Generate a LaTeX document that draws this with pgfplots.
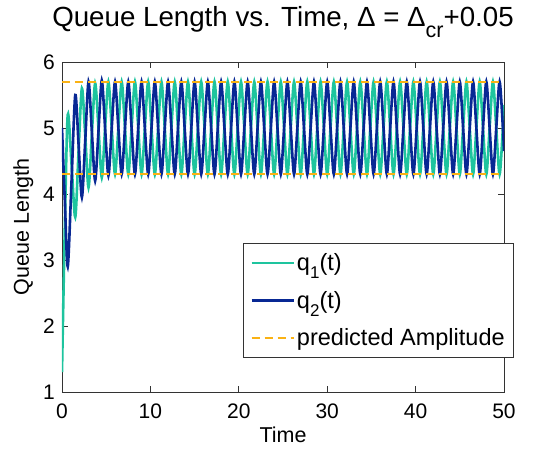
\documentclass[border=0pt]{standalone}
\usepackage{fontspec}
\setmainfont{Liberation Sans}
\usepackage{pgfplots}
\usepackage{pgfplotstable}
\pgfplotsset{compat=1.18}
\definecolor{qone}{RGB}{30,196,158}
\definecolor{qtwo}{RGB}{8,40,148}
\definecolor{amp}{RGB}{250,178,20}

\pgfplotstableread{
t q1 q2
0 1.30 5.00
0.32 3.50 3.90
0.65 5.20 2.90
1.08 4.45 4.20
1.5 3.65 5.50
1.875 4.65 4.75
2.25 5.60 3.95
2.625 4.90 4.80
3.0 4.10 5.70
3.375 4.90 4.95
3.75 5.68 4.20
4.125 5.00 4.95
4.5 4.25 5.72
4.875 5.00 5.00
5.25 5.70 4.28
5.625 5.00 5.00
6.0 4.3 5.7
6.375 5 5
6.75 5.7 4.3
7.125 5 5
7.5 4.3 5.7
7.875 5 5
8.25 5.7 4.3
8.625 5 5
9.0 4.3 5.7
9.375 5 5
9.75 5.7 4.3
10.125 5 5
10.5 4.3 5.7
10.875 5 5
11.25 5.7 4.3
11.625 5 5
12.0 4.3 5.7
12.375 5 5
12.75 5.7 4.3
13.125 5 5
13.5 4.3 5.7
13.875 5 5
14.25 5.7 4.3
14.625 5 5
15.0 4.3 5.7
15.375 5 5
15.75 5.7 4.3
16.125 5 5
16.5 4.3 5.7
16.875 5 5
17.25 5.7 4.3
17.625 5 5
18.0 4.3 5.7
18.375 5 5
18.75 5.7 4.3
19.125 5 5
19.5 4.3 5.7
19.875 5 5
20.25 5.7 4.3
20.625 5 5
21.0 4.3 5.7
21.375 5 5
21.75 5.7 4.3
22.125 5 5
22.5 4.3 5.7
22.875 5 5
23.25 5.7 4.3
23.625 5 5
24.0 4.3 5.7
24.375 5 5
24.75 5.7 4.3
25.125 5 5
25.5 4.3 5.7
25.875 5 5
26.25 5.7 4.3
26.625 5 5
27.0 4.3 5.7
27.375 5 5
27.75 5.7 4.3
28.125 5 5
28.5 4.3 5.7
28.875 5 5
29.25 5.7 4.3
29.625 5 5
30.0 4.3 5.7
30.375 5 5
30.75 5.7 4.3
31.125 5 5
31.5 4.3 5.7
31.875 5 5
32.25 5.7 4.3
32.625 5 5
33.0 4.3 5.7
33.375 5 5
33.75 5.7 4.3
34.125 5 5
34.5 4.3 5.7
34.875 5 5
35.25 5.7 4.3
35.625 5 5
36.0 4.3 5.7
36.375 5 5
36.75 5.7 4.3
37.125 5 5
37.5 4.3 5.7
37.875 5 5
38.25 5.7 4.3
38.625 5 5
39.0 4.3 5.7
39.375 5 5
39.75 5.7 4.3
40.125 5 5
40.5 4.3 5.7
40.875 5 5
41.25 5.7 4.3
41.625 5 5
42.0 4.3 5.7
42.375 5 5
42.75 5.7 4.3
43.125 5 5
43.5 4.3 5.7
43.875 5 5
44.25 5.7 4.3
44.625 5 5
45.0 4.3 5.7
45.375 5 5
45.75 5.7 4.3
46.125 5 5
46.5 4.3 5.7
46.875 5 5
47.25 5.7 4.3
47.625 5 5
48.0 4.3 5.7
48.375 5 5
48.75 5.7 4.3
49.125 5 5
49.5 4.3 5.7
49.875 5 5
50.0 5.35 4.65
}\qdata

\begin{document}
\begin{tikzpicture}
\path[use as bounding box] (-62pt,-58pt) rectangle (494pt,392pt);
\begin{axis}[
  scale only axis, width=442pt, height=330pt,
  at={(0pt,0pt)}, anchor=south west,
  xmin=0, xmax=50, ymin=1, ymax=6,
  xtick={0,10,...,50}, ytick={1,2,...,6},
  tick align=inside, major tick length=6pt,
  axis line style={line width=0.8pt, black!80},
  every tick/.style={line width=0.8pt, black!80},
  /pgf/number format/assume math mode=true,
  tick label style={font=\fontsize{21}{21}\selectfont, inner sep=0pt},
  xticklabel style={anchor=base, yshift=-26pt},
  yticklabel style={anchor=base east, xshift=-7pt, yshift=-7.5pt},
  label style={font=\fontsize{21.5}{21.5}\selectfont},
  xlabel={Time}, ylabel={Queue Length},
  xlabel style={at={(axis description cs:0.5,-0.1545)}, anchor=base},
  ylabel style={at={(axis description cs:-0.0747,0.5)}, anchor=base},
  title={Queue Length vs. Time, Δ = Δ\raisebox{-11pt}{\fontsize{21.5}{21.5}\selectfont cr}+0.05},
  title style={at={(axis description cs:0.5,1.0909)}, anchor=base, font=\fontsize{27.7}{27.7}\selectfont},
  legend style={at={(axis description cs:0.4095,0.104)}, anchor=south west,
    draw=black!80, line width=0.8pt, font=\fontsize{23.5}{23.5}\selectfont,
    inner xsep=7pt, inner ysep=8pt, row sep=15pt,
    nodes={inner sep=2pt}},
  legend cell align=left,
  legend image code/.code={\draw[#1] (0pt,0pt) -- (42pt,0pt);},
]
\addplot[qone, line width=2.6pt, smooth] table[x=t,y=q1]{\qdata};
\addlegendentry{q\raisebox{-8pt}{\fontsize{17}{17}\selectfont 1}(t)}
\addplot[qtwo, line width=2.6pt, smooth] table[x=t,y=q2]{\qdata};
\addlegendentry{q\raisebox{-8pt}{\fontsize{17}{17}\selectfont 2}(t)}
\addplot[amp, line width=2.4pt, dash pattern=on 8pt off 5pt] coordinates {(0,5.7) (50,5.7)};
\addlegendentry{predicted Amplitude}
\addplot[amp, line width=2.4pt, dash pattern=on 8pt off 5pt, forget plot] coordinates {(0,4.3) (50,4.3)};
\end{axis}
\end{tikzpicture}
\end{document}
